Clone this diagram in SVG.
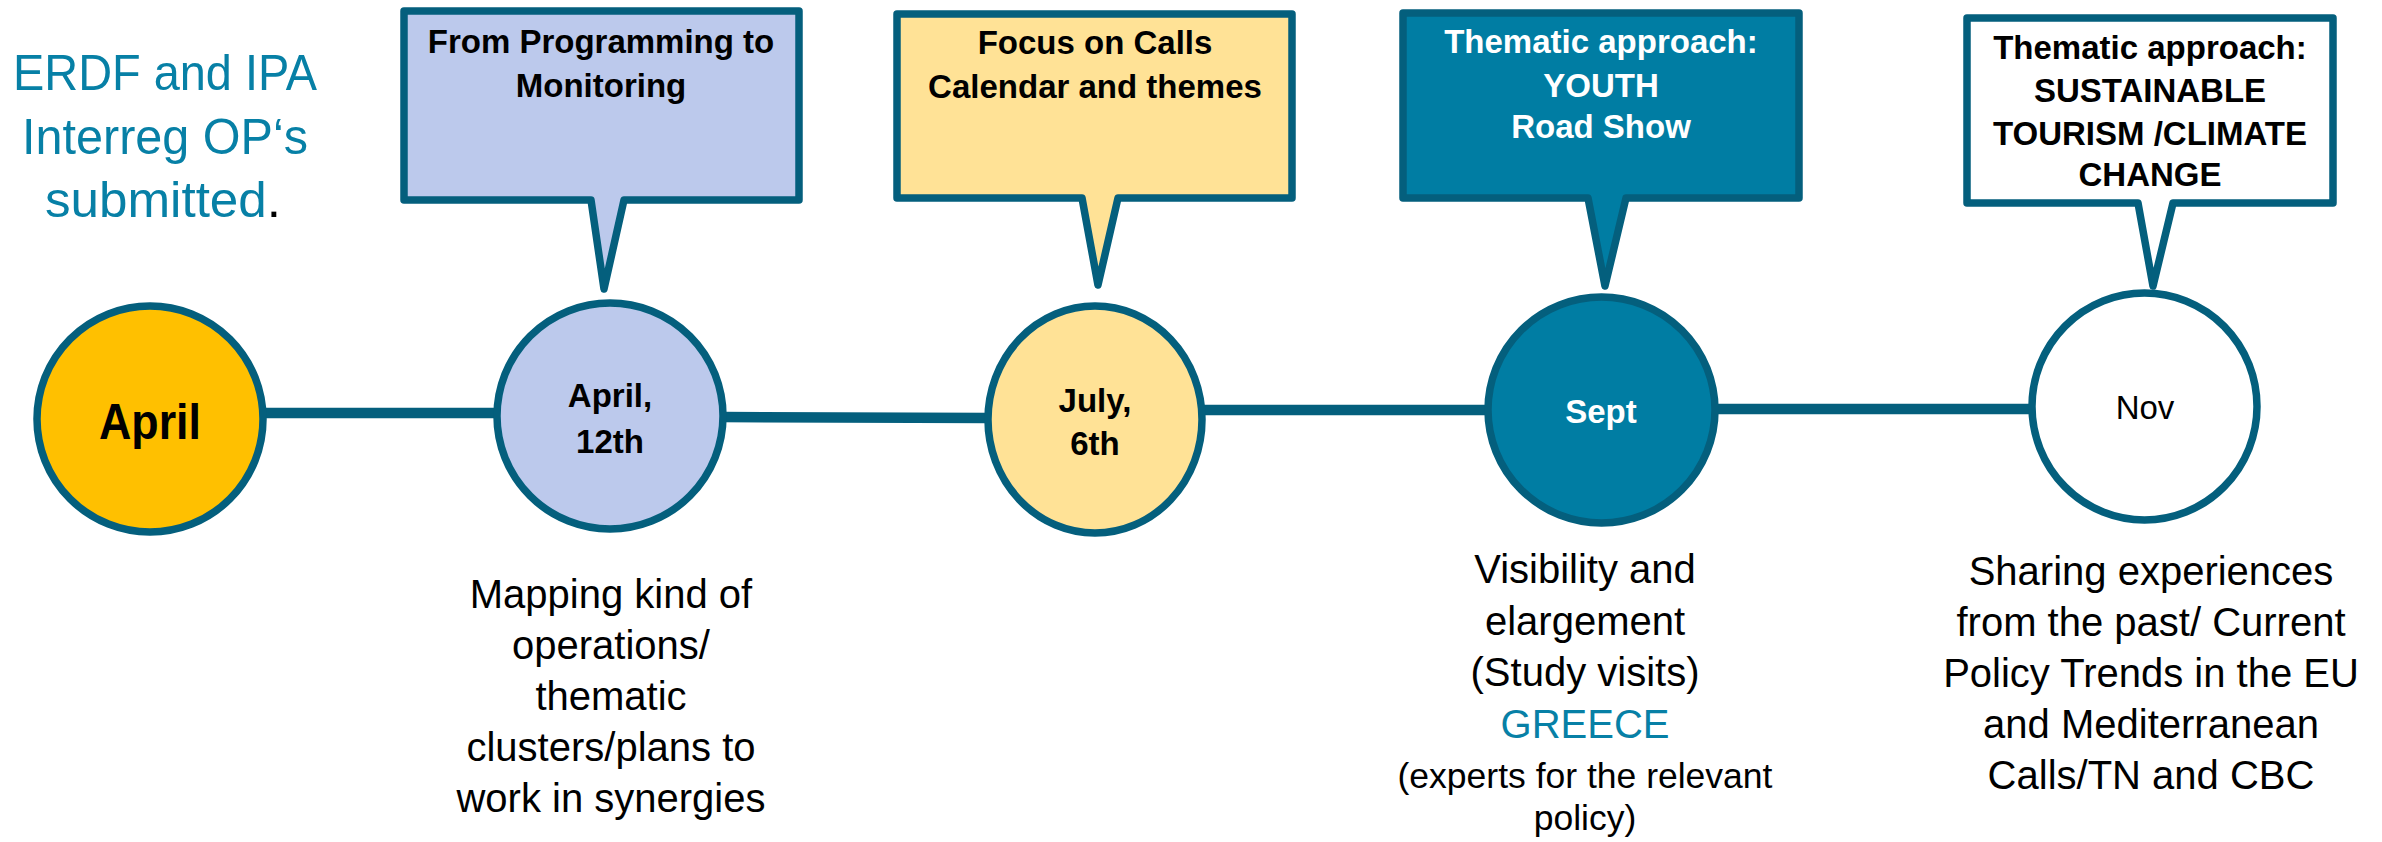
<svg xmlns="http://www.w3.org/2000/svg" width="2382" height="842" viewBox="0 0 2382 842">
<style>
.sh{stroke:#045F7D;stroke-width:7.5;stroke-linejoin:round}
.conn{stroke:#045F7D;stroke-width:10.5;fill:none}
.tb{font-family:"Liberation Sans",Arial,sans-serif;font-weight:bold;font-size:33px;text-anchor:middle;fill:#000}
.tr{font-family:"Liberation Sans",Arial,sans-serif;font-size:40px;text-anchor:middle;fill:#000}
.big{font-size:50px}
.sm{font-size:35.5px}
.mid{font-size:33px}
.teal{fill:#0780A6}
</style>
<rect width="2382" height="842" fill="#fff"/>
<g id="title">
<text class="tr big teal" x="165" y="90" textLength="304" lengthAdjust="spacingAndGlyphs">ERDF and IPA</text>
<text class="tr big teal" x="165" y="154" textLength="286" lengthAdjust="spacingAndGlyphs">Interreg OP‘s</text>
<text class="tr big" x="163" y="217" textLength="236" lengthAdjust="spacingAndGlyphs"><tspan class="teal">submitted</tspan><tspan fill="#000">.</tspan></text>
</g>
<g id="connectors">
<line class="conn" x1="262" y1="413" x2="497" y2="413"/>
<line class="conn" x1="722" y1="417" x2="990" y2="418"/>
<line class="conn" x1="1200" y1="410" x2="1490" y2="410"/>
<line class="conn" x1="1713" y1="409" x2="2034" y2="409"/>
</g>
<g id="node-april">
<ellipse class="sh" cx="150" cy="419" rx="113" ry="113" fill="#FFC000"/>
<text class="tb big" x="150" y="439" textLength="102" lengthAdjust="spacingAndGlyphs">April</text>
</g>
<g id="callout-programming">
<path class="sh" d="M404,11 H799 V200 H624 L604,289 L591,200 H404 Z" fill="#BCC9EC"/>
<text class="tb" x="601" y="53">From Programming to</text>
<text class="tb" x="601" y="97">Monitoring</text>
</g>
<g id="node-april12">
<ellipse class="sh" cx="610" cy="416" rx="113" ry="113" fill="#BCC9EC"/>
<text class="tb" x="610" y="407">April,</text>
<text class="tb" x="610" y="453">12th</text>
</g>
<g id="text-mapping">
<text class="tr" x="611" y="608">Mapping kind of</text>
<text class="tr" x="611" y="659">operations/</text>
<text class="tr" x="611" y="710">thematic</text>
<text class="tr" x="611" y="761">clusters/plans to</text>
<text class="tr" x="611" y="812">work in synergies</text>
</g>
<g id="callout-calls">
<path class="sh" d="M897,14 H1292 V198 H1118 L1098,285 L1082,198 H897 Z" fill="#FFE296"/>
<text class="tb" x="1095" y="54">Focus on Calls</text>
<text class="tb" x="1095" y="98">Calendar and themes</text>
</g>
<g id="node-july">
<ellipse class="sh" cx="1095" cy="419.5" rx="107" ry="113.5" fill="#FFE296"/>
<text class="tb" x="1095" y="412">July,</text>
<text class="tb" x="1095" y="455">6th</text>
</g>
<g id="callout-youth">
<path class="sh" d="M1403,13 H1799 V198 H1626 L1605,286 L1588,198 H1403 Z" fill="#007DA3"/>
<text class="tb" x="1601" y="53" fill="#fff" style="fill:#fff">Thematic approach:</text>
<text class="tb" x="1601" y="97" style="fill:#fff">YOUTH</text>
<text class="tb" x="1601" y="138" style="fill:#fff">Road Show</text>
</g>
<g id="node-sept">
<ellipse class="sh" cx="1601.5" cy="410" rx="113.5" ry="113" fill="#007DA3"/>
<text class="tb" x="1601" y="423" style="fill:#fff">Sept</text>
</g>
<g id="text-visibility">
<text class="tr" x="1585" y="583">Visibility and</text>
<text class="tr" x="1585" y="635">elargement</text>
<text class="tr" x="1585" y="686">(Study visits)</text>
<text class="tr teal" x="1585" y="738">GREECE</text>
<text class="tr sm" x="1585" y="788">(experts for the relevant</text>
<text class="tr sm" x="1585" y="830">policy)</text>
</g>
<g id="callout-tourism">
<path class="sh" d="M1967,18 H2333 V203 H2173 L2153,286 L2138,203 H1967 Z" fill="#fff"/>
<text class="tb" x="2150" y="59">Thematic approach:</text>
<text class="tb" x="2150" y="102">SUSTAINABLE</text>
<text class="tb" x="2150" y="145">TOURISM /CLIMATE</text>
<text class="tb" x="2150" y="186">CHANGE</text>
</g>
<g id="node-nov">
<ellipse class="sh" cx="2144.5" cy="406.5" rx="112.5" ry="113.5" fill="#fff"/>
<text class="tr mid" x="2145" y="419">Nov</text>
</g>
<g id="text-sharing">
<text class="tr" x="2151" y="585">Sharing experiences</text>
<text class="tr" x="2151" y="636">from the past/ Current</text>
<text class="tr" x="2151" y="687">Policy Trends in the EU</text>
<text class="tr" x="2151" y="738">and Mediterranean</text>
<text class="tr" x="2151" y="789">Calls/TN and CBC</text>
</g>
</svg>
